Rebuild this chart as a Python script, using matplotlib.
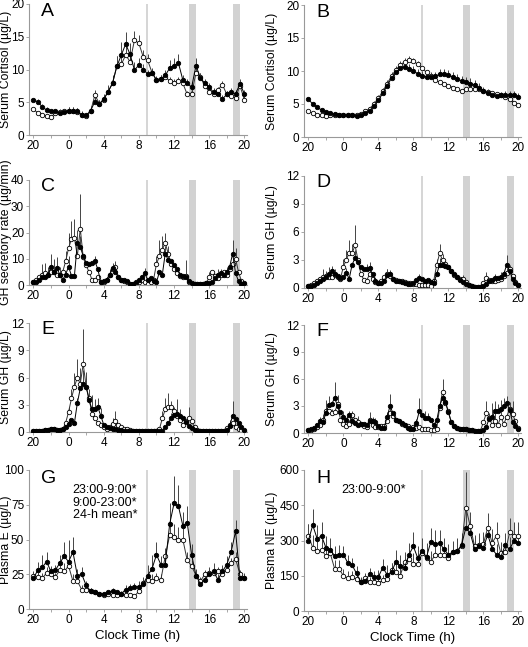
import numpy as np
import matplotlib.pyplot as plt

plt.rcParams['font.family'] = ['Liberation Sans', 'DejaVu Sans']

# clock time in hours, 20:00 (=-4) to 20:00 next day (=20)
t30 = np.arange(-4, 20.01, 0.5)          # 30-min samples
t20 = np.arange(73) / 3.0 - 4            # 20-min samples (GH)

tick_pos = [-4, 0, 4, 8, 12, 16, 20]
tick_lab = ['20', '0', '4', '8', '12', '16', '20']

# meal periods (grey bands)
meals = [(8.85, 9.05), (13.7, 14.5), (18.7, 19.5)]

# ---- A: serum cortisol ----
a_fill = [5.3, 5.1, 4.3, 3.8, 3.6, 3.6, 3.4, 3.5, 3.7, 3.7, 3.6, 3.1, 3.0, 3.7, 5.1, 4.7, 5.5,
          6.6, 7.9, 10.5, 12.2, 13.9, 12.3, 9.9, 10.7, 10.0, 9.3, 9.5, 8.4, 8.6, 9.1, 10.2, 10.6,
          11.0, 8.4, 7.9, 7.3, 10.6, 8.7, 7.9, 7.3, 6.5, 6.2, 5.5, 6.2, 6.5, 6.3, 7.8, 6.3]
a_open = [3.9, 3.4, 3.1, 2.9, 2.8, 3.3, 3.5, 3.6, 3.7, 3.6, 3.5, 3.0, 2.9, 3.6, 6.1, 4.8, 5.4,
          6.6, 7.9, 10.6, 10.8, 12.2, 11.2, 14.5, 14.0, 11.9, 11.4, 9.5, 8.4, 8.5, 8.8, 8.3, 8.0,
          8.3, 7.9, 6.2, 6.3, 9.5, 8.8, 7.5, 6.6, 6.2, 6.9, 7.7, 6.2, 5.9, 5.7, 7.5, 5.4]
a_fill_sem = [0.4, 0.4, 0.4, 0.4, 0.3, 0.4, 0.4, 0.5, 0.5, 0.6, 0.5, 0.5, 0.4, 0.6, 0.8, 0.7, 0.8,
              1.0, 1.2, 1.5, 2.0, 1.8, 1.7, 1.2, 1.0, 0.8, 0.7, 0.6, 0.5, 0.6, 0.8, 1.2, 1.2,
              1.3, 0.8, 0.7, 0.8, 1.1, 0.7, 0.6, 0.6, 0.6, 0.5, 0.6, 0.5, 0.6, 0.6, 0.7, 0.6]
a_open_sem = [0.3, 0.3, 0.3, 0.3, 0.3, 0.3, 0.4, 0.4, 0.5, 0.6, 0.6, 0.5, 0.4, 0.8, 0.8, 0.6, 0.7,
              0.9, 1.1, 1.4, 1.6, 1.5, 1.3, 1.4, 1.3, 1.1, 0.9, 0.7, 0.6, 0.6, 0.6, 0.6, 0.6,
              0.6, 0.6, 0.5, 0.5, 0.8, 0.7, 0.6, 0.5, 0.5, 0.5, 0.6, 0.5, 0.5, 0.5, 0.6, 0.5]

# ---- B: serum cortisol ----
b_fill = [5.7, 5.0, 4.5, 4.1, 3.8, 3.6, 3.5, 3.4, 3.4, 3.3, 3.3, 3.2, 3.3, 3.6, 4.0, 4.7, 5.6,
          6.6, 7.8, 8.9, 9.8, 10.4, 10.6, 10.3, 10.0, 9.6, 9.3, 9.1, 9.1, 9.2, 9.5, 9.5, 9.4,
          9.1, 8.8, 8.5, 8.3, 8.1, 7.9, 7.5, 7.0, 6.6, 6.3, 6.2, 6.3, 6.3, 6.4, 6.3, 6.1]
b_open = [3.9, 3.6, 3.4, 3.3, 3.2, 3.3, 3.4, 3.4, 3.4, 3.3, 3.3, 3.3, 3.5, 3.9, 4.3, 5.0, 5.9,
          6.9, 8.1, 9.2, 10.2, 10.9, 11.4, 11.6, 11.5, 11.0, 10.4, 9.8, 9.2, 8.6, 8.3, 8.0, 7.8,
          7.5, 7.2, 7.0, 7.2, 7.3, 7.3, 7.2, 7.0, 6.8, 6.6, 6.5, 6.3, 6.0, 5.7, 5.2, 4.8]
b_fill_sem = [0.3, 0.3, 0.3, 0.3, 0.3, 0.3, 0.3, 0.3, 0.3, 0.3, 0.3, 0.3, 0.3, 0.3, 0.4, 0.4, 0.5,
              0.6, 0.7, 0.8, 0.8, 0.8, 0.7, 0.7, 0.7, 0.7, 0.7, 0.7, 0.7, 0.7, 0.8, 0.8, 0.8,
              0.8, 0.8, 0.8, 0.8, 0.8, 0.7, 0.7, 0.6, 0.6, 0.5, 0.5, 0.5, 0.6, 0.6, 0.6, 0.5]
b_open_sem = [0.2, 0.2, 0.2, 0.2, 0.2, 0.2, 0.2, 0.2, 0.2, 0.2, 0.2, 0.2, 0.2, 0.3, 0.3, 0.4, 0.4,
              0.5, 0.6, 0.6, 0.6, 0.6, 0.6, 0.6, 0.5, 0.5, 0.4, 0.4, 0.4, 0.3, 0.3, 0.3, 0.3,
              0.3, 0.3, 0.3, 0.3, 0.3, 0.3, 0.3, 0.3, 0.3, 0.3, 0.3, 0.3, 0.3, 0.3, 0.3, 0.3]

# ---- C: GH secretory rate (20-min) ----
c_fill = [1, 1.2, 2, 3, 3, 4, 7, 5, 6.5, 4, 2, 4, 7, 3.5, 3.5, 16, 14.5, 11, 8.5, 8, 8.5, 9, 6,
          1, 1.5, 2, 4, 6.5, 5, 3, 2, 2, 1.5, 0.5, 0.3, 1, 2, 3, 4.5, 2, 2.5, 1.5, 1, 5, 4, 12,
          9.5, 9, 7.5, 6, 4, 3.5, 3, 1.5, 0.8, 0.5, 0.4, 0.5, 0.5, 0.6, 0.8, 1, 2.5, 4, 4.5, 4,
          5, 7, 12, 4.5, 1.5, 0.5, 0.8]
c_open = [1, 2, 3, 4, 4.5, 4, 5, 5, 4, 4, 5, 9, 14, 17.5, 18, 11, 21.5, 10.5, 7.5, 5, 2, 2, 3,
          1, 1, 2, 4, 6, 7, 3, 2, 1.5, 1, 0.5, 0.3, 0.5, 1, 2, 1, 0.5, 1, 2, 8, 11, 13.5, 16, 12,
          8, 6, 4.5, 3.5, 3, 3.5, 1, 0.5, 0.4, 0.5, 0.5, 0.5, 0.6, 3, 5, 3.5, 2.5, 4, 5, 4, 6,
          8, 10, 5, 1.5, 0.5]
c_fill_err_i = [5, 6, 8, 9, 12, 15, 16, 21, 27, 38, 45, 46, 63, 66, 68]
c_fill_err = [3, 5, 4, 3, 4, 5, 4, 2, 2, 2, 3, 3, 2, 2, 5]
c_open_err_i = [3, 4, 7, 11, 12, 13, 14, 16, 26, 28, 42, 43, 44, 45, 46, 52, 60, 64, 67, 69]
c_open_err = [4, 4, 5, 4, 6, 7, 7, 13, 2, 2, 3, 6, 5, 4, 3, 6, 2, 2, 2, 4]

# ---- D: serum GH ----
d_fill = [0.2, 0.2, 0.3, 0.5, 0.7, 1.0, 1.2, 1.5, 1.8, 1.5, 1.3, 1.1, 1.2, 1.6, 1.0, 2.5, 3.2,
          2.8, 2.2, 2.0, 2.0, 2.1, 1.5, 0.8, 0.5, 0.5, 0.8, 1.4, 1.5, 1.0, 0.8, 0.7, 0.6, 0.5,
          0.4, 0.4, 0.5, 0.9, 1.1, 1.0, 0.8, 0.9, 0.6, 0.5, 1.5, 2.5, 2.5, 2.4, 2.2, 1.8, 1.5,
          1.2, 0.9, 0.6, 0.4, 0.3, 0.2, 0.15, 0.15, 0.15, 0.2, 0.4, 0.7, 0.9, 1.1, 1.1, 1.2,
          1.5, 2.5, 1.8, 1.0, 0.5, 0.3]
d_open = [0.2, 0.3, 0.5, 0.8, 1.0, 1.2, 1.3, 1.2, 1.2, 1.4, 1.2, 1.0, 2.3, 3.0, 3.8, 3.7, 4.6,
          3.0, 1.5, 0.9, 0.8, 1.5, 1.0, 0.6, 0.5, 0.7, 1.2, 1.5, 1.3, 1.0, 0.9, 0.8, 0.7, 0.6,
          0.5, 0.5, 0.4, 0.4, 0.3, 0.3, 0.3, 0.3, 0.2, 0.8, 2.5, 3.7, 3.0, 2.6, 2.2, 1.8, 1.4,
          1.2, 1.0, 1.0, 0.6, 0.3, 0.2, 0.15, 0.15, 0.15, 0.5, 1.1, 0.9, 0.7, 0.8, 0.9, 1.0,
          1.3, 1.6, 2.0, 1.3, 0.6, 0.3]
d_fill_err_i = [6, 7, 8, 9, 13, 16, 20, 21, 27, 28, 38, 45, 46, 64, 66, 68]
d_fill_err = [0.6, 0.8, 0.6, 0.5, 0.5, 0.9, 0.6, 0.7, 0.6, 0.4, 0.4, 0.7, 0.5, 0.4, 0.5, 1.0]
d_open_err_i = [5, 7, 12, 13, 14, 15, 16, 21, 27, 44, 45, 46, 53, 61, 68, 69]
d_open_err = [0.8, 0.6, 0.8, 1.1, 1.3, 1.0, 2.2, 0.5, 0.5, 0.6, 1.0, 0.6, 0.4, 0.6, 0.5, 0.5]

# ---- E: serum GH ----
e_fill = [0.1, 0.1, 0.1, 0.15, 0.2, 0.25, 0.35, 0.3, 0.25, 0.25, 0.3, 0.5, 0.9, 1.3, 1.0, 3.2,
          4.8, 5.3, 5.0, 3.5, 2.5, 2.5, 2.7, 1.8, 0.8, 0.5, 0.4, 0.35, 0.3, 0.25, 0.2, 0.15,
          0.1, 0.1, 0.1, 0.1, 0.1, 0.1, 0.1, 0.1, 0.1, 0.1, 0.1, 0.1, 0.1, 0.5, 1.0, 1.5, 1.9,
          2.0, 1.8, 1.5, 1.1, 0.7, 0.4, 0.2, 0.1, 0.1, 0.1, 0.1, 0.1, 0.1, 0.1, 0.1, 0.1, 0.1,
          0.2, 0.7, 1.8, 1.4, 1.0, 0.5, 0.2]
e_open = [0.1, 0.1, 0.1, 0.15, 0.2, 0.25, 0.3, 0.3, 0.25, 0.25, 0.3, 1.0, 2.2, 3.7, 5.0, 6.0,
          5.3, 7.5, 5.0, 3.7, 2.0, 1.5, 1.0, 0.8, 0.5, 0.3, 0.5, 0.9, 1.2, 0.8, 0.5, 0.35, 0.3,
          0.2, 0.1, 0.1, 0.1, 0.1, 0.1, 0.1, 0.1, 0.1, 0.1, 0.3, 1.5, 2.5, 2.8, 2.7, 2.3, 1.8,
          1.3, 0.8, 1.2, 1.5, 1.2, 0.5, 0.2, 0.1, 0.1, 0.1, 0.1, 0.1, 0.1, 0.1, 0.1, 0.1, 0.4,
          0.8, 1.0, 0.5, 0.3, 0.2, 0.15]
e_fill_err_i = [15, 16, 17, 18, 19, 20, 21, 22, 23, 47, 48, 49, 50, 68]
e_fill_err = [0.5, 1.0, 1.5, 1.0, 1.2, 1.6, 1.1, 1.0, 0.8, 0.6, 0.8, 1.6, 0.7, 1.6]
e_open_err_i = [12, 13, 14, 15, 16, 17, 18, 27, 28, 44, 45, 46, 47, 53, 67]
e_open_err = [0.6, 1.0, 1.5, 2.0, 1.7, 3.8, 1.6, 0.6, 1.1, 0.8, 1.2, 1.5, 0.7, 1.3, 0.5]

# ---- F: serum GH ----
f_fill = [0.3, 0.4, 0.6, 0.9, 1.3, 1.2, 2.2, 3.1, 3.2, 3.9, 3.0, 2.3, 1.8, 1.5, 2.0, 1.3, 1.1,
          0.9, 1.0, 1.0, 0.9, 1.3, 1.3, 1.2, 0.8, 0.6, 0.6, 1.8, 3.0, 2.2, 1.5, 1.3, 1.1, 0.9,
          0.6, 0.4, 0.5, 1.1, 2.4, 2.0, 1.7, 1.7, 1.4, 0.9, 1.4, 3.0, 3.9, 3.5, 2.3, 1.2, 0.8,
          0.6, 0.5, 0.5, 0.4, 0.3, 0.3, 0.25, 0.25, 0.25, 0.3, 0.7, 1.6, 1.8, 2.4, 2.4, 2.7,
          3.0, 3.3, 2.6, 1.2, 0.8, 0.5]
f_open = [0.3, 0.3, 0.4, 0.7, 0.9, 1.5, 2.4, 2.5, 2.2, 2.3, 3.2, 1.5, 1.0, 0.8, 1.0, 2.0, 1.5,
          1.2, 1.0, 0.8, 0.7, 1.5, 0.9, 0.7, 0.7, 0.8, 0.8, 1.3, 2.2, 1.9, 1.5, 1.3, 1.0, 0.9,
          0.8, 0.6, 0.7, 0.6, 0.7, 0.5, 0.4, 0.4, 0.3, 0.3, 0.5, 2.8, 4.6, 3.3, 2.4, 1.2, 0.8,
          0.6, 0.5, 0.5, 0.4, 0.3, 0.3, 0.25, 0.25, 0.25, 1.2, 2.2, 1.7, 0.9, 1.3, 0.9, 1.8,
          1.0, 1.8, 2.7, 2.1, 1.3, 0.6]
f_fill_err_i = [4, 6, 7, 9, 12, 14, 15, 17, 21, 22, 23, 27, 28, 37, 38, 40, 41, 45, 46, 62, 63,
                64, 65, 66, 67, 68]
f_fill_err = [0.5, 1.5, 1.0, 1.8, 0.7, 0.5, 0.5, 1.0, 1.0, 0.5, 0.5, 0.5, 1.3, 0.5, 1.5, 0.8,
              0.5, 0.5, 2.1, 0.6, 1.5, 1.2, 0.8, 1.0, 0.9, 0.8]
f_open_err_i = [5, 6, 8, 10, 14, 15, 21, 28, 46, 61, 64, 66, 69, 70]
f_open_err = [0.6, 0.8, 0.5, 1.0, 0.5, 0.5, 0.4, 0.6, 0.5, 1.4, 0.9, 1.0, 0.7, 1.5]

# ---- G: plasma epinephrine ----
g_fill = [22, 28, 30, 34, 27, 28, 33, 38, 34, 41, 24, 25, 17, 13, 12, 11, 11, 12, 13, 12, 11, 14,
          15, 16, 16, 18, 24, 29, 39, 32, 32, 61, 76, 74, 60, 62, 39, 24, 18, 21, 25, 27, 21, 27,
          32, 41, 56, 22, 22]
g_open = [24, 23, 22, 26, 25, 23, 28, 27, 31, 20, 20, 14, 14, 13, 12, 11, 10, 11, 10, 10, 11, 10,
          10, 9, 13, 19, 21, 20, 22, 21, 38, 53, 52, 50, 50, 35, 31, 24, 20, 25, 26, 26, 27, 25,
          28, 33, 36, 25, 22]
g_fill_sem = [3, 6, 9, 7, 4, 4, 6, 10, 16, 11, 5, 5, 3, 2, 1.5, 1.5, 1.5, 2, 2, 2, 2, 3, 3, 3, 4,
              5, 8, 10, 9, 6, 8, 15, 20, 15, 10, 12, 8, 5, 4, 5, 5, 6, 4, 5, 6, 7, 8, 4, 4]
g_open_sem = [3, 4, 4, 4, 4, 3, 5, 6, 6, 5, 4, 3, 2, 2, 1.5, 1.5, 1.5, 1.5, 1.5, 1.5, 1.5, 1.5,
              1.5, 1.5, 2, 3, 4, 5, 4, 4, 6, 9, 9, 9, 8, 6, 4, 3, 3, 3, 3, 3, 3, 3, 3, 4, 5, 3, 3]

# ---- H: plasma norepinephrine ----
h_fill = [300, 365, 308, 320, 270, 260, 235, 240, 240, 205, 195, 160, 122, 128, 157, 145, 145,
          185, 155, 165, 210, 190, 185, 240, 275, 225, 255, 230, 295, 285, 290, 262, 240, 250,
          255, 280, 355, 330, 265, 275, 270, 325, 265, 240, 230, 280, 262, 300, 290]
h_open = [320, 270, 255, 260, 235, 245, 180, 180, 150, 140, 145, 135, 125, 140, 125, 125, 120,
          130, 135, 175, 165, 150, 210, 220, 200, 200, 245, 225, 210, 240, 240, 240, 225, 250,
          255, 275, 440, 360, 275, 280, 285, 355, 290, 320, 245, 250, 335, 320, 320]
h_fill_sem = [70, 70, 60, 60, 50, 50, 40, 40, 35, 35, 30, 30, 20, 20, 25, 25, 30, 35, 40, 40, 50,
              50, 45, 50, 60, 50, 55, 60, 60, 60, 55, 50, 45, 50, 55, 50, 90, 60, 50, 50, 50, 55,
              50, 45, 45, 50, 55, 60, 70]
h_open_sem = [50, 55, 50, 45, 40, 40, 35, 35, 30, 30, 25, 25, 20, 20, 20, 20, 25, 25, 30, 30, 35,
              35, 40, 40, 45, 45, 45, 45, 45, 45, 45, 45, 45, 45, 50, 50, 150, 60, 50, 50, 50, 60,
              60, 60, 50, 50, 60, 60, 60]

W, H = 528, 647
fig = plt.figure(figsize=(W / 100, H / 100), dpi=100)


def make_ax(left, top, right, bottom):
    return fig.add_axes([left / W, 1 - bottom / H, (right - left) / W, (bottom - top) / H])


def draw(ax, t, yf, yo, ef, eo, yticks, ylabel, letter, left_col, sparse=False):
    t = np.asarray(t)
    yf = np.asarray(yf, float)
    yo = np.asarray(yo, float)
    for a, b in meals:
        c = '#d6d6d6' if b - a < 0.3 else '#d2d2d2'
        ax.axvspan(a, b, color=c, lw=0, zorder=0)
    # upward error bars only
    for y, e in ((yo, eo), (yf, ef)):
        if sparse:
            idx, val = e
            idx = np.asarray(idx)
            ax.vlines(t[idx], y[idx], y[idx] + np.asarray(val), color='#444444', lw=0.7, zorder=1)
        else:
            ax.vlines(t, y, y + np.asarray(e), color='#444444', lw=0.7, zorder=1)
    ax.plot(t, yo, '-o', color='#333333', lw=0.7, ms=3.2, mfc='white', mec='black', mew=0.6, zorder=2)
    ax.plot(t, yf, '-o', color='black', lw=0.7, ms=3.2, mfc='black', mec='black', mew=0.6, zorder=3)

    ax.set_xlim(-4.5, 20.3)
    ax.set_ylim(yticks[0], yticks[-1])
    ax.set_yticks(yticks)
    ax.set_xticks(tick_pos)
    ax.set_xticklabels(tick_lab)
    ax.set_xticks([-2, 2, 6, 10, 14, 18], minor=True)
    for s in ('top', 'right'):
        ax.spines[s].set_visible(False)
    for s in ('left', 'bottom'):
        ax.spines[s].set_color('#999999')
        ax.spines[s].set_linewidth(0.8)
    ax.tick_params(which='both', direction='out', length=2, width=0.6, color='#999999',
                   labelsize=8.5, pad=1.5)
    ax.set_ylabel(ylabel, fontsize=8.8)
    ax.yaxis.set_label_coords(-0.08 if left_col else -0.118, 0.5)
    ax.text(0.055, 0.94, letter, transform=ax.transAxes, fontsize=14, ha='left', va='center')


L0, L1 = 29, 247
R0, R1 = 304, 521

axA = make_ax(L0, 4, L1, 135)
draw(axA, t30, a_fill, a_open, a_fill_sem, a_open_sem, [0, 5, 10, 15, 20],
     'Serum Cortisol (µg/L)', 'A', True)
axB = make_ax(R0, 5, R1, 137)
draw(axB, t30, b_fill, b_open, b_fill_sem, b_open_sem, [0, 5, 10, 15, 20],
     'Serum Cortisol (µg/L)', 'B', False)

axC = make_ax(L0, 180, L1, 285)
draw(axC, t20, c_fill, c_open, (c_fill_err_i, c_fill_err), (c_open_err_i, c_open_err),
     [0, 10, 20, 30, 40], 'GH secretory rate (µg/min)', 'C', True, sparse=True)
axD = make_ax(R0, 176, R1, 288)
draw(axD, t20, d_fill, d_open, (d_fill_err_i, d_fill_err), (d_open_err_i, d_open_err),
     [0, 3, 6, 9, 12], 'Serum GH (µg/L)', 'D', False, sparse=True)

axE = make_ax(L0, 323, L1, 432)
draw(axE, t20, e_fill, e_open, (e_fill_err_i, e_fill_err), (e_open_err_i, e_open_err),
     [0, 3, 6, 9, 12], 'Serum GH (µg/L)', 'E', True, sparse=True)
axF = make_ax(R0, 325, R1, 433)
draw(axF, t20, f_fill, f_open, (f_fill_err_i, f_fill_err), (f_open_err_i, f_open_err),
     [0, 3, 6, 9, 12], 'Serum GH (µg/L)', 'F', False, sparse=True)

axG = make_ax(L0, 470, L1, 609)
draw(axG, t30, g_fill, g_open, g_fill_sem, g_open_sem, [0, 25, 50, 75, 100],
     'Plasma E (µg/L)', 'G', True)
axH = make_ax(R0, 470, R1, 611)
draw(axH, t30, h_fill, h_open, h_fill_sem, h_open_sem, [0, 150, 300, 450, 600],
     'Plasma NE (µg/L)', 'H', False)

for ax in (axG, axH):
    ax.set_xlabel('Clock Time (h)', fontsize=9.5, labelpad=3)

for i, s in enumerate(['23:00-9:00*', '9:00-23:00*', '24-h mean*']):
    axG.text(0.2, 0.855 - i * 0.09, s, transform=axG.transAxes, fontsize=9, va='center')
axH.text(0.17, 0.855, '23:00-9:00*', transform=axH.transAxes, fontsize=9, va='center')

fig.savefig('out.png', dpi=100)
